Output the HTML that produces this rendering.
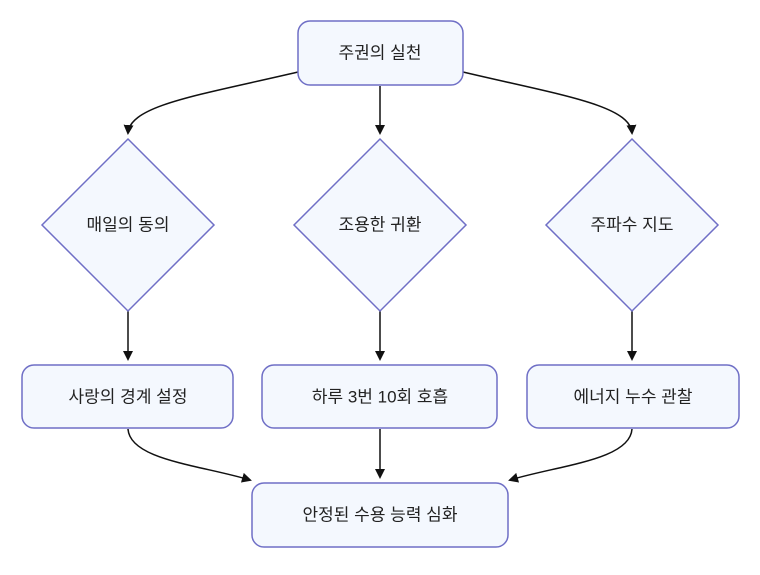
<!DOCTYPE html>
<html><head><meta charset="utf-8"><style>
html,body{margin:0;padding:0;background:#fff;}
svg text{font-family:"Liberation Sans","Noto Sans CJK KR",sans-serif;font-size:17px;fill:#222;text-anchor:middle;dominant-baseline:central;}
</style></head><body>
<svg width="760" height="570" viewBox="0 0 760 570" xmlns="http://www.w3.org/2000/svg">
<defs><marker id="a" markerWidth="10" markerHeight="10" refX="8" refY="5" orient="auto" markerUnits="userSpaceOnUse"><path d="M0,0 L10,5 L0,10 z" fill="#111"/></marker></defs>
<g fill="none" stroke="#111" stroke-width="1.5">
<path d="M298,72 C200,95 130,105 128,133" marker-end="url(#a)"/>
<path d="M380,86 L380,133" marker-end="url(#a)"/>
<path d="M463,72 C560,95 630,105 632,133" marker-end="url(#a)"/>
<path d="M128,311 L128,359" marker-end="url(#a)"/>
<path d="M380,311 L380,359" marker-end="url(#a)"/>
<path d="M632,311 L632,359" marker-end="url(#a)"/>
<path d="M128,429 C130,460 200,465 250,480" marker-end="url(#a)"/>
<path d="M380,429 L380,477" marker-end="url(#a)"/>
<path d="M632,429 C630,460 560,465 510,480" marker-end="url(#a)"/>
</g>
<g fill="#f4f8fe" stroke="#6f6fc6" stroke-width="1.5">
<rect x="298" y="21" width="165" height="64" rx="12"/>
<polygon points="128,139 214,225 128,311 42,225"/>
<polygon points="380,139 466,225 380,311 294,225"/>
<polygon points="632,139 718,225 632,311 546,225"/>
<rect x="22" y="365" width="211" height="63" rx="12"/>
<rect x="262" y="365" width="235" height="63" rx="12"/>
<rect x="527" y="365" width="212" height="63" rx="12"/>
<rect x="252" y="483" width="256" height="64" rx="12"/>
</g>
<text x="380" y="53">주권의 실천</text>
<text x="128" y="225">매일의 동의</text>
<text x="380" y="225">조용한 귀환</text>
<text x="632" y="225">주파수 지도</text>
<text x="128" y="397">사랑의 경계 설정</text>
<text x="380" y="397">하루 3번 10회 호흡</text>
<text x="633" y="397">에너지 누수 관찰</text>
<text x="380" y="515">안정된 수용 능력 심화</text>
</svg>
</body></html>
